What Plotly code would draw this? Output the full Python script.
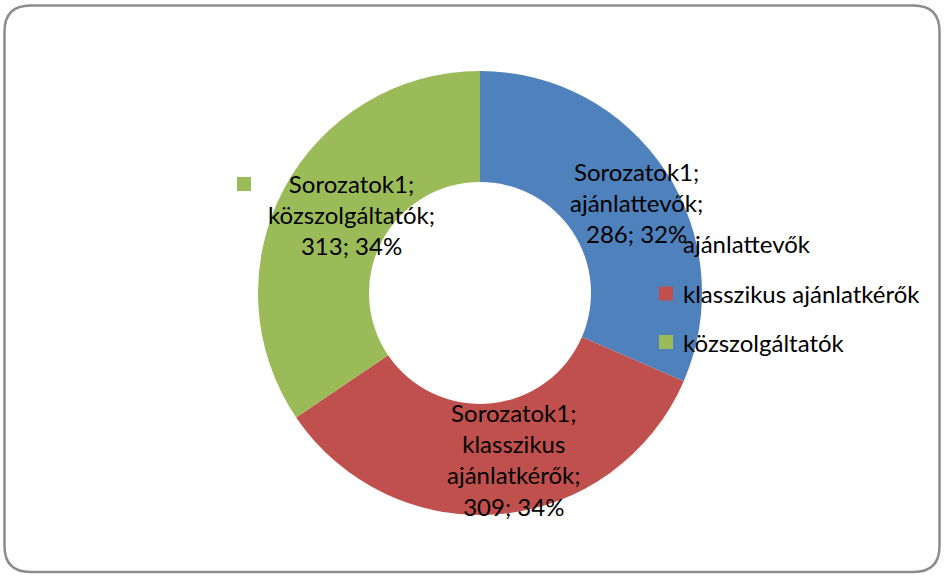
import plotly.graph_objects as go

series_name = "Sorozatok1"
categories = ["ajánlattevők", "klasszikus ajánlatkérők", "közszolgáltatók"]
values = [286, 309, 313]
pct_labels = ["32%", "34%", "34%"]
colors = ["#4F81BD", "#C0504D", "#9BBB59"]

W, H = 944, 576
FONT = "Lato"
FS = 24

def px(x):
    return x / W

def py(y):
    return 1 - y / H

fig = go.Figure()
fig.add_trace(go.Pie(
    labels=categories, values=values, hole=0.5, sort=False,
    direction="clockwise", rotation=0,
    marker=dict(colors=colors, line=dict(width=0)),
    textinfo="none", hoverinfo="label+value+percent",
    showlegend=False,
    domain=dict(x=[px(258), px(702)], y=[py(515), py(71)]),
))

# data labels (Excel style: series; category; value; percent)
label_lines = [
    [series_name + ";", categories[0] + ";", f"{values[0]}; {pct_labels[0]}"],
    [series_name + ";", "klasszikus", "ajánlatkérők;", f"{values[1]}; {pct_labels[1]}"],
    [series_name + ";", categories[2] + ";", f"{values[2]}; {pct_labels[2]}"],
]
label_pos = [(636, 202), (514, 459), (351, 215)]
for lines, (lx, ly) in zip(label_lines, label_pos):
    fig.add_annotation(
        x=px(lx), y=py(ly), xref="paper", yref="paper",
        text="<br>".join(lines), showarrow=False, align="center",
        font=dict(family=FONT, size=FS, color="#000000"),
        xanchor="center", yanchor="middle",
    )

# legend key shown beside the közszolgáltatók label
fig.add_shape(type="rect", xref="paper", yref="paper",
              x0=px(237), x1=px(251), y0=py(191), y1=py(177),
              fillcolor=colors[2], line=dict(width=0))

# legend (drawn on top of labels)
legend_y = [243, 293.5, 342]
for cat, col, ly in zip(categories, colors, legend_y):
    fig.add_shape(type="rect", xref="paper", yref="paper",
                  x0=px(659), x1=px(673), y0=py(ly + 7), y1=py(ly - 7),
                  fillcolor=col, line=dict(width=0))
    fig.add_annotation(
        x=px(681), y=py(ly), xref="paper", yref="paper",
        text=cat, showarrow=False, align="left",
        font=dict(family=FONT, size=FS, color="#000000"),
        xanchor="left", yanchor="middle",
    )

# rounded chart frame
r = 26
x0, y0, x1, y1 = 4.5, 5.5, 939.5, 572
pts = [("M", x0 + r, y0), ("L", x1 - r, y0), ("Q", x1, y0, x1, y0 + r),
       ("L", x1, y1 - r), ("Q", x1, y1, x1 - r, y1), ("L", x0 + r, y1),
       ("Q", x0, y1, x0, y1 - r), ("L", x0, y0 + r), ("Q", x0, y0, x0 + r, y0)]
segs = []
for p in pts:
    cmd, coords = p[0], p[1:]
    pairs = [f"{px(coords[i])},{py(coords[i + 1])}" for i in range(0, len(coords), 2)]
    segs.append(cmd + " " + " ".join(pairs))
path = " ".join(segs) + " Z"
fig.add_shape(type="path", xref="paper", yref="paper", path=path,
              line=dict(color="#8C8C8C", width=2.5), fillcolor="rgba(0,0,0,0)")

fig.update_layout(
    width=W, height=H,
    margin=dict(l=0, r=0, t=0, b=0),
    paper_bgcolor="white", plot_bgcolor="white",
    showlegend=False,
    font=dict(family=FONT),
)

fig.write_html("out.html", config={"displayModeBar": False},
               post_script="document.body.style.margin='0';document.body.style.padding='0';")
